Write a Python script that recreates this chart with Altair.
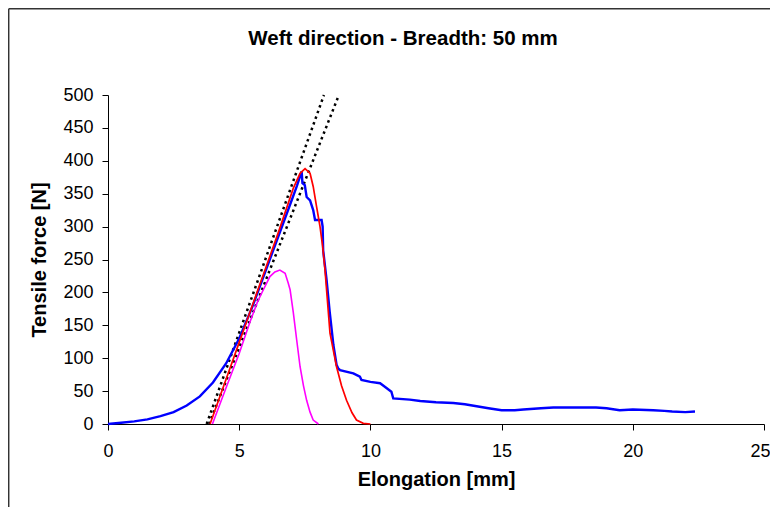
import altair as alt
import pandas as pd

TITLE = "Weft direction - Breadth: 50 mm"
X_TITLE = "Elongation [mm]"
Y_TITLE = "Tensile force [N]"

x_ticks = [0, 5, 10, 15, 20, 25]
y_ticks = [0, 50, 100, 150, 200, 250, 300, 350, 400, 450, 500]

# measured curve (blue)
blue_x = [0, 0.5, 1, 1.5, 2, 2.5, 3, 3.5, 4, 4.5, 5, 5.5, 6, 6.5, 7, 7.2, 7.38,
          7.41, 7.5, 7.57, 7.7, 7.82, 7.89, 8.14, 8.18, 8.2, 8.33, 8.45, 8.59,
          8.71, 8.78, 8.84, 9.35, 9.6, 9.66, 10.0, 10.37, 10.6, 10.8, 10.87,
          11.5, 11.9, 12.5, 13.16, 13.6, 14.05, 14.5, 15, 15.5, 15.83, 16.5,
          16.97, 17.5, 18, 18.6, 19, 19.5, 20, 20.78, 21.2, 21.5, 22, 22.37]
blue_y = [0, 2, 4, 7, 12, 18, 28, 42, 63, 92, 130, 178, 232, 286, 340, 362, 384,
          366, 363, 345, 340, 325, 310, 310, 300, 264, 219, 170, 120,
          90, 84, 82, 77, 72, 67, 64, 62, 55, 49, 39,
          37, 35, 33, 32, 30, 27, 24, 21, 21, 22, 24,
          25, 25, 25, 25, 24, 21, 22, 21, 20, 19, 18, 19]

# fitted curve (red)
red_x = [3.89, 4.5, 5, 5.5, 6, 6.5, 7.06, 7.32, 7.51, 7.7, 7.82, 7.95, 8.08,
         8.18, 8.27, 8.46, 8.71, 8.9, 9.09, 9.3, 9.47, 9.73, 10.0]
red_y = [0, 68, 124, 180, 236, 292, 358, 381, 388, 381, 361, 330, 300,
         270, 234, 138, 87, 58, 36, 17, 6, 1, 0]

# second curve (magenta)
mag_x = [3.98, 4.5, 5, 5.41, 5.7, 5.92, 6.17, 6.36, 6.55, 6.75, 6.87, 6.94,
         7.06, 7.19, 7.32, 7.45, 7.57, 7.7, 7.82, 8.02]
mag_y = [0, 55, 107, 155, 186, 204, 224, 231, 234, 229, 214, 204,
         170, 128, 87, 58, 36, 18, 6, 0]

# tangent lines (dotted)
tan1_x = [3.76, 8.23]
tan1_y = [0, 500]
tan2_x = [3.85, 8.8]
tan2_y = [0, 500]

rows = []
for name, xs, ys in [("blue", blue_x, blue_y), ("red", red_x, red_y),
                     ("magenta", mag_x, mag_y), ("tan1", tan1_x, tan1_y),
                     ("tan2", tan2_x, tan2_y)]:
    for i, (a, b) in enumerate(zip(xs, ys)):
        rows.append({"series": name, "x": a, "y": b, "i": i})
df = pd.DataFrame(rows)

FONT = "Liberation Sans"
W, H = 656, 329

xenc = alt.X("x:Q", scale=alt.Scale(domain=[0, 25], nice=False),
             axis=alt.Axis(values=x_ticks, title=X_TITLE, grid=False,
                           labelOffset={"condition": {"test": "datum.value === 25",
                                                      "value": -4},
                                        "value": 0}))
yenc = alt.Y("y:Q", scale=alt.Scale(domain=[0, 500], nice=False),
             axis=alt.Axis(values=y_ticks, title=Y_TITLE, grid=False))

base = alt.Chart(df)


def series_layer(name, color, width, dash=None):
    kw = dict(color=color, strokeWidth=width, interpolate="linear")
    if dash:
        kw["strokeDash"] = dash
    return base.transform_filter(alt.datum.series == name).mark_line(**kw).encode(
        x=xenc, y=yenc, order="i:Q")


tan1 = series_layer("tan1", "black", 2.5, [2.5, 3.5])
tan2 = series_layer("tan2", "black", 2.5, [2.5, 3.5])
mag = series_layer("magenta", "#FF00FF", 1.6)
blue = series_layer("blue", "#0000FF", 2.4)
red = series_layer("red", "#FF0000", 1.7)

title = alt.Chart(pd.DataFrame({"t": [TITLE]})).mark_text(
    font=FONT, fontSize=20.5, fontWeight="bold", color="black", baseline="middle",
    align="center").encode(text="t:N", x=alt.value(295), y=alt.value(-56))

frame_left = alt.Chart(pd.DataFrame({"a": [0]})).mark_rule(
    color="#333333", strokeWidth=1.5).encode(
    x=alt.value(-99.3), y=alt.value(-86.3), y2=alt.value(H + 100))
frame_top = alt.Chart(pd.DataFrame({"a": [0]})).mark_rule(
    color="#333333", strokeWidth=1.5).encode(
    x=alt.value(-99.3), x2=alt.value(W + 20), y=alt.value(-86.3))

chart = alt.layer(tan1, tan2, mag, blue, red, title, frame_left, frame_top).properties(
    width=W, height=H,
    padding={"left": 100, "top": 87, "right": 6, "bottom": 83},
    autosize=alt.AutoSizeParams(type="none"),
).configure_view(stroke=None).configure_axis(
    labelFont=FONT, titleFont=FONT, labelFontSize=18, titleFontSize=20,
    titleFontWeight="bold", labelColor="black", titleColor="black",
    domainColor="black", tickColor="black", tickSize=6, domainWidth=1,
    tickWidth=1,
).configure_axisX(labelPadding=12, titlePadding=9, labelFlush=False
).configure_axisY(labelPadding=9, titlePadding=13)

chart.save("out.html", embed_options={"renderer": "svg", "actions": False})
